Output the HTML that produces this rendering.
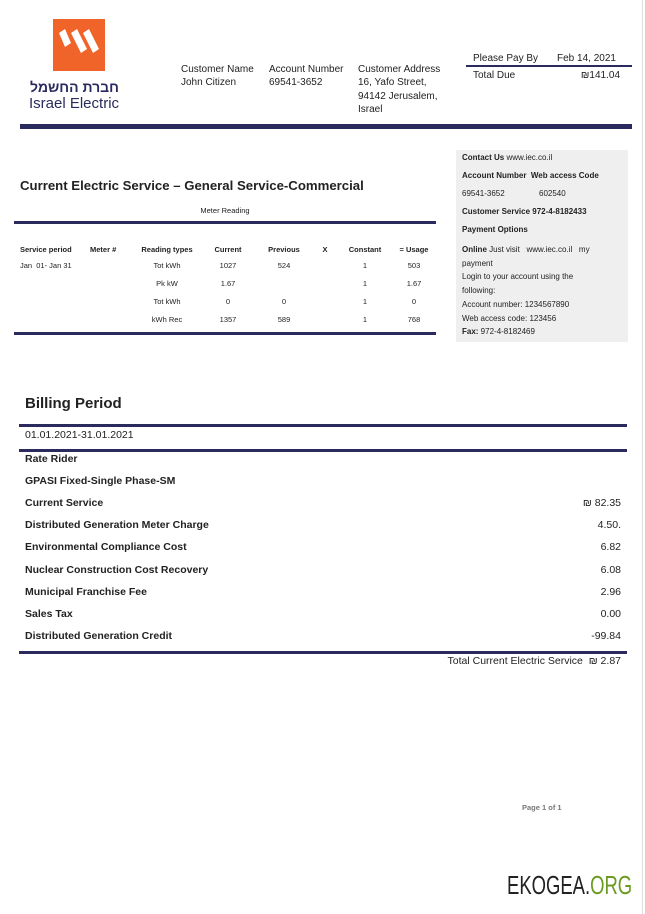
<!DOCTYPE html>
<html><head><meta charset="utf-8"><style>
*{margin:0;padding:0;box-sizing:border-box}
body{width:645px;height:914px;position:relative;background:#fff;font-family:"Liberation Sans","Noto Sans CJK SC",sans-serif;color:#222;overflow:hidden}
.a{position:absolute;white-space:nowrap}
.n{position:absolute;background:#2b2a5e}
.s{font-size:10px;line-height:13px}
.t{font-size:7.5px}
.b{font-weight:bold}
.r{text-align:right}
.c{text-align:center}
.bl{font-size:10.5px;font-weight:bold}
.v{position:absolute;left:500px;width:121px;text-align:right;font-size:10.5px;white-space:nowrap}
</style></head><body>
<div style="position:absolute;right:2px;top:0;width:1px;height:914px;background:#ddd"></div>
<div class="a" style="left:53px;top:19px;width:52px;height:52px;background:#f0642a"></div>
<svg class="a" style="left:53px;top:19px" width="52" height="52"><g fill="#fff">
<polygon points="6,14 12,10 18,24 12,28"/><polygon points="18,14 24,10 34,30 28,34"/><polygon points="30,14 36,10 46,30 40,34"/></g></svg>
<div class="a b" style="left:30px;top:79px;font-size:14px;color:#2b2a5e">חברת החשמל</div>
<div class="a" style="left:29px;top:95px;font-size:15px;color:#2b2a5e">Israel Electric</div>
<div class="a s" style="left:181px;top:63px">Customer Name<br>John Citizen</div>
<div class="a s" style="left:269px;top:63px">Account Number<br>69541-3652</div>
<div class="a s" style="left:358px;top:63px;line-height:13.3px">Customer Address<br>16, Yafo Street,<br>94142 Jerusalem,<br>Israel</div>
<div class="a s" style="left:473px;top:52px">Please Pay By</div>
<div class="a s" style="left:557px;top:52px">Feb 14, 2021</div>
<div class="n" style="left:466px;top:65px;width:166px;height:2px"></div>
<div class="a s" style="left:473px;top:69px">Total Due</div>
<div class="a s r" style="left:540px;top:69px;width:80px">₪141.04</div>
<div class="n" style="left:20px;top:124px;width:612px;height:5px"></div>
<div class="a" style="left:456px;top:150px;width:172px;height:192px;background:#efefef"></div>
<div class="a t" style="left:462px;top:153px;line-height:9px;font-size:8px"><b>Contact Us</b> www.iec.co.il</div>
<div class="a t b" style="left:462px;top:171px;font-size:8px"><span>Account Number</span>&nbsp; Web access Code</div>
<div class="a t" style="left:462px;top:189px;font-size:8px">69541-3652</div>
<div class="a t" style="left:539px;top:189px;font-size:8px">602540</div>
<div class="a t b" style="left:462px;top:207px;font-size:8px">Customer Service 972-4-8182433</div>
<div class="a t b" style="left:462px;top:225px;font-size:8px">Payment Options</div>
<div class="a t" style="left:462px;top:243px;font-size:8px;line-height:13.7px"><b>Online</b> Just visit&nbsp;&nbsp; www.iec.co.il&nbsp;&nbsp; my<br>payment<br>Login to your account using the<br>following:<br>Account number: 1234567890<br>Web access code: 123456<br><b>Fax:</b> 972-4-8182469</div>
<div class="a b" style="left:20px;top:178px;font-size:13.2px">Current Electric Service – General Service-Commercial</div>
<div class="a t c" style="left:180px;top:206px;width:90px">Meter Reading</div>
<div class="n" style="left:14px;top:221px;width:422px;height:3px"></div>
<div class="a t b" style="left:20px;top:245px">Service period</div>
<div class="a t b" style="left:90px;top:245px">Meter #</div>
<div class="a t b c" style="left:132px;top:245px;width:70px">Reading types</div>
<div class="a t b c" style="left:208px;top:245px;width:40px">Current</div>
<div class="a t b c" style="left:264px;top:245px;width:40px">Previous</div>
<div class="a t b c" style="left:318px;top:245px;width:14px">X</div>
<div class="a t b c" style="left:345px;top:245px;width:40px">Constant</div>
<div class="a t b c" style="left:394px;top:245px;width:40px">= Usage</div>
<div class="a t" style="left:20px;top:261px">Jan&nbsp; 01- Jan 31</div>
<div class="a t c" style="left:132px;top:257px;width:70px;line-height:18px">Tot kWh<br>Pk kW<br>Tot kWh<br>kWh Rec</div>
<div class="a t c" style="left:208px;top:257px;width:40px;line-height:18px">1027<br>1.67<br>0<br>1357</div>
<div class="a t c" style="left:264px;top:257px;width:40px;line-height:18px">524<br>&nbsp;<br>0<br>589</div>
<div class="a t c" style="left:345px;top:257px;width:40px;line-height:18px">1<br>1<br>1<br>1</div>
<div class="a t c" style="left:394px;top:257px;width:40px;line-height:18px">503<br>1.67<br>0<br>768</div>
<div class="n" style="left:14px;top:332px;width:422px;height:3px"></div>
<div class="a b" style="left:25px;top:395px;font-size:15px">Billing Period</div>
<div class="n" style="left:19px;top:424px;width:608px;height:3px"></div>
<div class="a" style="left:25px;top:429px;font-size:10.5px">01.01.2021-31.01.2021</div>
<div class="n" style="left:19px;top:449px;width:608px;height:3px"></div>
<div class="a bl" style="left:25px;top:453px">Rate Rider</div>
<div class="a bl" style="left:25px;top:475px">GPASI Fixed-Single Phase-SM</div>
<div class="a bl" style="left:25px;top:497px">Current Service</div>
<div class="a bl" style="left:25px;top:519px">Distributed Generation Meter Charge</div>
<div class="a bl" style="left:25px;top:541px">Environmental Compliance Cost</div>
<div class="a bl" style="left:25px;top:564px">Nuclear Construction Cost Recovery</div>
<div class="a bl" style="left:25px;top:586px">Municipal Franchise Fee</div>
<div class="a bl" style="left:25px;top:608px">Sales Tax</div>
<div class="a bl" style="left:25px;top:630px">Distributed Generation Credit</div>
<div class="v" style="top:497px">₪ 82.35</div>
<div class="v" style="top:519px">4.50.</div>
<div class="v" style="top:541px">6.82</div>
<div class="v" style="top:564px">6.08</div>
<div class="v" style="top:586px">2.96</div>
<div class="v" style="top:608px">0.00</div>
<div class="v" style="top:630px">-99.84</div>
<div class="n" style="left:19px;top:651px;width:608px;height:3px"></div>
<div class="a r" style="left:400px;top:655px;width:221px;font-size:10.5px">Total Current Electric Service&nbsp; ₪ 2.87</div>
<div class="a b" style="left:522px;top:803px;font-size:7.5px;color:#777">Page 1 of 1</div>
<div class="a" style="left:507px;top:870px;font-size:26px;transform:scaleX(0.71);transform-origin:left top;color:#222">EKOGEA.<span style="color:#6a9a1f">ORG</span></div>
</body></html>
